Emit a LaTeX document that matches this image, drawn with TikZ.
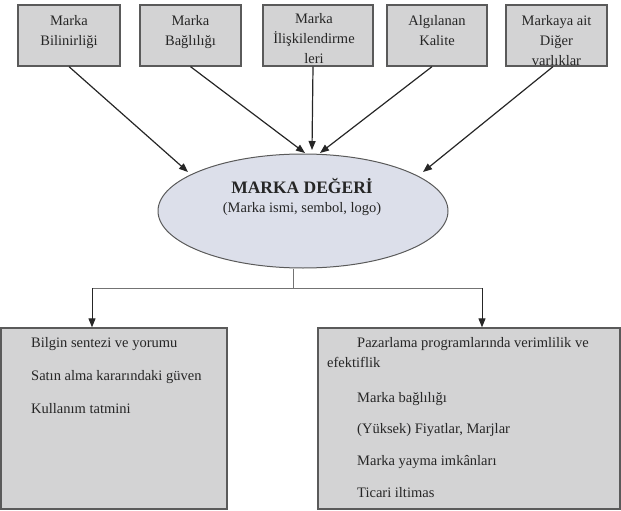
\documentclass[tikz,border=0pt]{standalone}
\usepackage{fontspec}
\setmainfont{Liberation Serif}
\usetikzlibrary{shapes.geometric,arrows.meta}
\definecolor{boxfill}{HTML}{D3D3D4}
\definecolor{ellfill}{HTML}{DCDFEA}
\definecolor{edge}{HTML}{5A5A5A}
\definecolor{ink}{HTML}{262626}
\begin{document}
\begin{tikzpicture}[x=1pt,y=-1pt,
  topbox/.style={draw=edge,fill=boxfill,line width=1.3pt,inner sep=0pt},
  toptext/.style={anchor=north,align=center,inner sep=0pt,text=ink,font=\fontsize{14.5}{20}\selectfont},
  bodytext/.style={anchor=base west,inner sep=0pt,text=ink,font=\fontsize{14.5}{20}\selectfont},
  arr/.style={draw=black!85,line width=1.2pt,-{Triangle[length=9pt,width=7pt]}},
  thin/.style={draw=black!55,line width=0.9pt}]
\useasboundingbox (0,0) rectangle (621,511);
% top boxes
\node[topbox,minimum width=102pt,minimum height=61pt] (b1) at (69,35.5) {};
\node[topbox,minimum width=101pt,minimum height=61pt] (b2) at (190.5,35.5) {};
\node[topbox,minimum width=110pt,minimum height=61pt] (b3) at (318,35.5) {};
\node[topbox,minimum width=100pt,minimum height=61pt] (b4) at (437,35.5) {};
\node[topbox,minimum width=101pt,minimum height=61pt] (b5) at (556.5,35.5) {};
\node[toptext] (t1) at (69,15) {Marka\\Bilinirliği};
\node[toptext] (t2) at (190.5,15) {Marka\\Bağlılığı};
\node[toptext] (t3) at (314,13.5) {Marka\\İlişkilendirme\\leri};
\node[toptext] (t4) at (437,15) {Algılanan\\Kalite};
\node[toptext] (t5) at (556.5,15) {Markaya ait\\Diğer\\varlıklar};
% ellipse
\node[ellipse,draw=edge,fill=ellfill,line width=1pt,minimum width=290pt,minimum height=114pt,inner sep=0pt] (E) at (303,211) {};
\node[inner sep=0pt,text=ink,font=\fontsize{17.5}{20}\selectfont\bfseries] (title) at (302,186) {MARKA DEĞERİ};
\node[inner sep=0pt,text=ink,font=\fontsize{14.5}{20}\selectfont] (sub) at (302,209) {(Marka ismi, sembol, logo)};
% arrow end points
\coordinate (e1) at (188,172);
\coordinate (e2) at (305,153);
\coordinate (e3) at (312,150);
\coordinate (e4) at (320,153);
\coordinate (e5) at (423,172);
\draw[arr] (b1.south) -- (e1);
\draw[arr] (b2.south) -- (e2);
\draw[arr] ([xshift=-5pt]b3.south) -- (e3);
\draw[arr] ([xshift=-5pt]b4.south) -- (e4);
\draw[arr] ([xshift=-3.5pt]b5.south) -- (e5);
% bottom boxes
\node[topbox,minimum width=226pt,minimum height=181pt] (L) at (114,418.5) {};
\node[topbox,minimum width=302pt,minimum height=181pt] (R) at (469,418.5) {};
\node[bodytext] (l1) at (31,347) {Bilgin sentezi ve yorumu};
\node[bodytext] (l2) at (31,380) {Satın alma kararındaki güven};
\node[bodytext] (l3) at (31,413) {Kullanım tatmini};
\node[bodytext] (r1) at (357,347) {Pazarlama programlarında verimlilik ve};
\node[bodytext] (r2) at (327,367) {efektiflik};
\node[bodytext] (r3) at (357,402) {Marka bağlılığı};
\node[bodytext] (r4) at (357,433) {(Yüksek) Fiyatlar, Marjlar};
\node[bodytext] (r5) at (357,465) {Marka yayma imkânları};
\node[bodytext] (r6) at (357,497) {Ticari iltimas};
% connectors down
\coordinate (j) at (293,288);
\coordinate (jl) at (92,288);
\coordinate (jr) at (482,288);
\draw[thin] (E.south -| j) -- (j);
\draw[thin] (jl) -- (jr);
\draw[arr,line width=1pt] (jl) -- (L.north -| jl);
\draw[arr,line width=1pt] (jr) -- (R.north -| jr);
\end{tikzpicture}
\end{document}
